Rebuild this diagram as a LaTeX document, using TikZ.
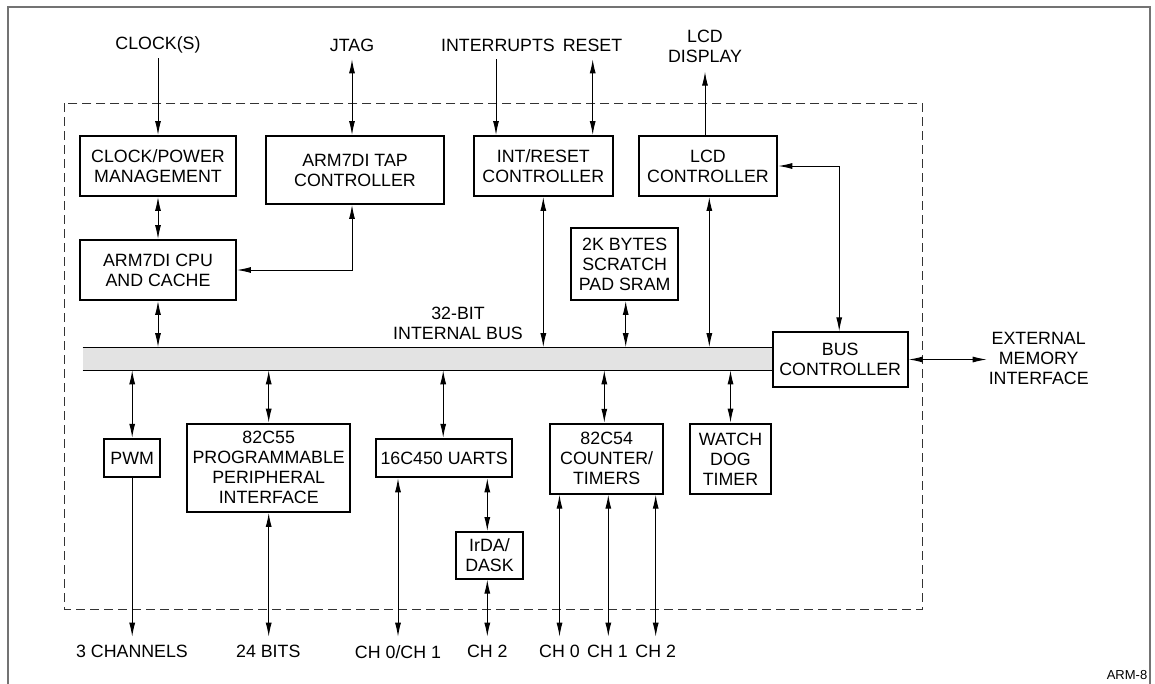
\documentclass[tikz,border=0pt]{standalone}
\usepackage{fontspec}
\setmainfont{Liberation Sans}
\usetikzlibrary{arrows.meta}
\begin{document}
\begin{tikzpicture}[x=1pt,y=-1pt,
 blk/.style={draw, line width=1.9pt, fill=white, align=center, inner sep=0pt, font=\fontsize{17.8}{20}\selectfont},
 lbl/.style={align=center, inner sep=0pt, font=\fontsize{17.8}{20}\selectfont},
 conn/.style={line width=1pt, >={Latex[length=14pt,width=6pt]}},
 ]
\useasboundingbox (0,0) rectangle (1155,683);
% outer frame
\draw[black!55, line width=1.4pt] (8,700) -- (8,7) -- (1150,7) -- (1150,700);
% chip boundary
\draw[black!80, line width=1pt, dash pattern=on 9pt off 5pt] (64,103) rectangle (922.7,609);

% bus
\node[fill=black!11, draw=none, minimum width=690pt, minimum height=22.7pt, inner sep=0pt] (bus) at (427.7,358.7) {};
\draw[line width=1pt] (bus.north west) -- (bus.north east);
\draw[line width=1pt] (bus.south west) -- (bus.south east);

% blocks
\node[blk, minimum width=156pt, minimum height=60pt] (clk) at (158,166) {CLOCK/POWER\\MANAGEMENT};
\node[blk, minimum width=178pt, minimum height=68pt] (tap) at (355,170) {ARM7DI TAP\\CONTROLLER};
\node[blk, minimum width=156pt, minimum height=60pt] (cpu) at (158,270) {ARM7DI CPU\\AND CACHE};
\node[blk, minimum width=138.7pt, minimum height=60pt] (intr) at (543.3,166) {INT/RESET\\CONTROLLER};
\node[blk, minimum width=138.6pt, minimum height=60pt] (lcd) at (708,166) {LCD\\CONTROLLER};
\node[blk, minimum width=106.7pt, minimum height=72pt] (sram) at (624.7,264) {2K BYTES\\SCRATCH\\PAD SRAM};
\node[blk, minimum width=135pt, minimum height=54.4pt] (bc) at (840.2,359.5) {BUS\\CONTROLLER};
\node[blk, minimum width=55.7pt, minimum height=38.6pt] (pwm) at (132.2,458) {PWM};
\node[blk, minimum width=162.7pt, minimum height=88.3pt] (ppi) at (268.7,467.8) {82C55\\PROGRAMMABLE\\PERIPHERAL\\INTERFACE};
\node[blk, minimum width=136.3pt, minimum height=38.6pt] (uart) at (444.2,458) {16C450 UARTS};
\node[blk, minimum width=67.6pt, minimum height=46.7pt] (irda) at (489.5,555.3) {IrDA/\\DASK};
\node[blk, minimum width=113.3pt, minimum height=70pt] (ctr) at (606.7,458.7) {82C54\\COUNTER/\\TIMERS};
\node[blk, minimum width=80.4pt, minimum height=70.3pt] (wdt) at (730.5,458.8) {WATCH\\DOG\\TIMER};

% labels
\node[lbl] (lclk) at (158,45) {CLOCK(S)};
\node[lbl] (ljtag) at (352,45) {JTAG};
\node[lbl] (lint) at (498,45) {INTERRUPTS};
\node[lbl] (lrst) at (592.5,45) {RESET};
\node[lbl] (llcd) at (705,46) {LCD\\DISPLAY};
\node[lbl] (lbus) at (458,323) {32-BIT\\INTERNAL BUS};
\node[lbl] (lext) at (1038.7,358) {EXTERNAL\\MEMORY\\INTERFACE};
\node[lbl] (l3ch) at (132,651.7) {3 CHANNELS};
\node[lbl] (l24) at (268.3,651.7) {24 BITS};
\node[lbl] (lch01) at (398,651.7) {CH 0/CH 1};
\node[lbl] (lch2a) at (487.3,651.7) {CH 2};
\node[lbl] (lch0) at (559.5,651.7) {CH 0};
\node[lbl] (lch1) at (607.5,651.7) {CH 1};
\node[lbl] (lch2b) at (655.7,651.7) {CH 2};
\node[inner sep=0pt, font=\fontsize{13}{15}\selectfont] (tag) at (1127,675) {ARM-8};

% connector end points
\coordinate (clkin) at (158,58.3);
\coordinate (jtagin) at (352,59.3);
\coordinate (intin) at (496,59.3);
\coordinate (rstin) at (592.7,59.3);
\coordinate (lcdout) at (705,71.7);
\coordinate (extout) at (986.7,358.3);
\coordinate (botend) at (0,636.7);

% connectors
\begin{scope}[conn]
\draw[->] (clkin) -- (clk.north);
\draw[<->] (jtagin) -- (jtagin |- tap.north);
\draw[->] (intin) -- (intin |- intr.north);
\draw[<->] (rstin) -- (rstin |- intr.north);
\draw[->] (lcdout |- lcd.north) -- (lcdout);
\draw[<->] (clk.south) -- (cpu.north);
\draw[<->] (jtagin |- tap.south) |- (cpu.east);
\draw[<->] (cpu.south) -- (cpu.south |- bus.north);
\draw[<->] (intr.south) -- (intr.south |- bus.north);
\draw[<->] ([xshift=1pt]sram.south) -- ([xshift=1pt]sram.south |- bus.north);
\draw[<->] ([xshift=1.3pt]lcd.south) -- ([xshift=1.3pt]lcd.south |- bus.north);
\draw[<->] (lcd.east) -| ([xshift=-1pt]bc.north);
\draw[<->] (bc.east) -- (bc.east -| extout);
\draw[<->] (bus.south -| pwm.north) -- (pwm.north);
\draw[<->] (bus.south -| ppi.north) -- (ppi.north);
\draw[<->] ([xshift=-1pt]uart.north |- bus.south) -- ([xshift=-1pt]uart.north);
\draw[<->] ([xshift=-2.4pt]ctr.north |- bus.south) -- ([xshift=-2.4pt]ctr.north);
\draw[<->] (bus.south -| wdt.north) -- (wdt.north);
\draw[->] (pwm.south) -- (pwm.south |- botend);
\draw[<->] (ppi.south) -- (ppi.south |- botend);
\draw[<->] (uart.south -| lch01) -- (lch01 |- botend);
\draw[<->] (uart.south -| lch2a) -- (irda.north -| lch2a);
\draw[<->] (irda.south -| lch2a) -- (lch2a |- botend);
\draw[<->] (ctr.south -| lch0) -- (lch0 |- botend);
\draw[<->] (ctr.south -| 608.3,0) -- (608.3,636.7);
\draw[<->] (ctr.south -| lch2b) -- (lch2b |- botend);
\end{scope}
\end{tikzpicture}
\end{document}
